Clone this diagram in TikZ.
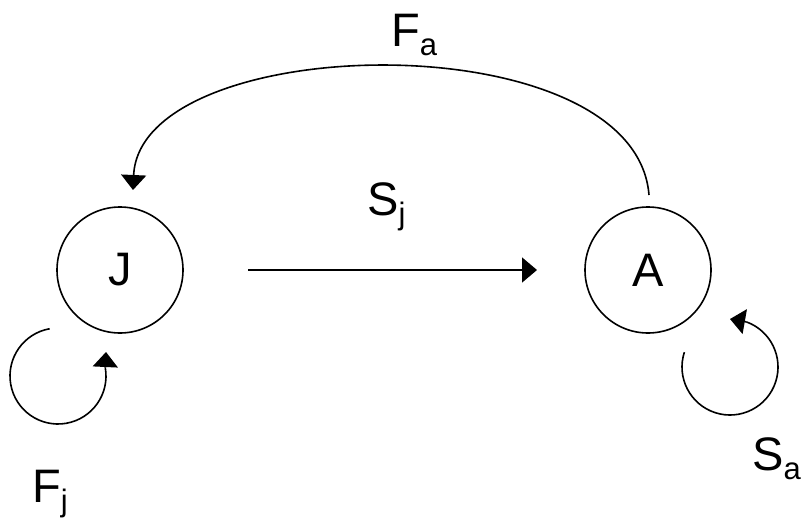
\documentclass[tikz,border=0pt]{standalone}
\usepackage{fontspec}
\setmainfont{Liberation Sans}
\usetikzlibrary{arrows.meta}
\newcommand\lblsub[1]{\raisebox{-0.2em}{\fontsize{31}{31}\selectfont #1}}
\tikzset{
  state/.style={draw, circle, minimum size=126pt, inner sep=0pt, line width=1.6pt, font=\fontsize{47}{50}\selectfont},
  lbl/.style={anchor=base west, inner sep=0pt, font=\fontsize{47}{50}\selectfont},
  conn/.style={line width=1.6pt, -{Triangle[width=25pt,length=15pt]}},
}
\begin{document}
\begin{tikzpicture}[x=1pt,y=-1pt]
\useasboundingbox (0,0) rectangle (802,522);
\node[state] (J) at (120,270) {J};
\node[state] (A) at (648,270) {A};
\coordinate (sjs) at (248,270);
\coordinate (sje) at (537,270);
\draw[conn] (sjs) -- (sje);
\coordinate (fas) at (649,195);
\coordinate (fae) at (133,190);
\draw[conn] (fas) .. controls (635,20) and (140,30) .. (fae);
% J self loop
\coordinate (fjc) at (58,376);
\draw[line width=1.6pt] (fjc) ++(-100:48) arc[start angle=-100, end angle=-370, radius=48] coordinate (fjb);
\coordinate (fjt) at (106,352);
\draw[conn] (fjb) -- (fjt);
% A self loop
\coordinate (sac) at (730,367);
\draw[line width=1.6pt] (sac) ++(-162:48) arc[start angle=-162, end angle=-430, radius=48] coordinate (sab);
\coordinate (sat) at (730,319);
\draw[conn] (sab) -- (sat);
\node[lbl] (Fa) at (391,46) {F\lblsub{a}};
\node[lbl] (Sj) at (367,215) {S\lblsub{j}};
\node[lbl] (Fj) at (32,502) {F\lblsub{j}};
\node[lbl] (Sa) at (752,470) {S\lblsub{a}};
\end{tikzpicture}
\end{document}
